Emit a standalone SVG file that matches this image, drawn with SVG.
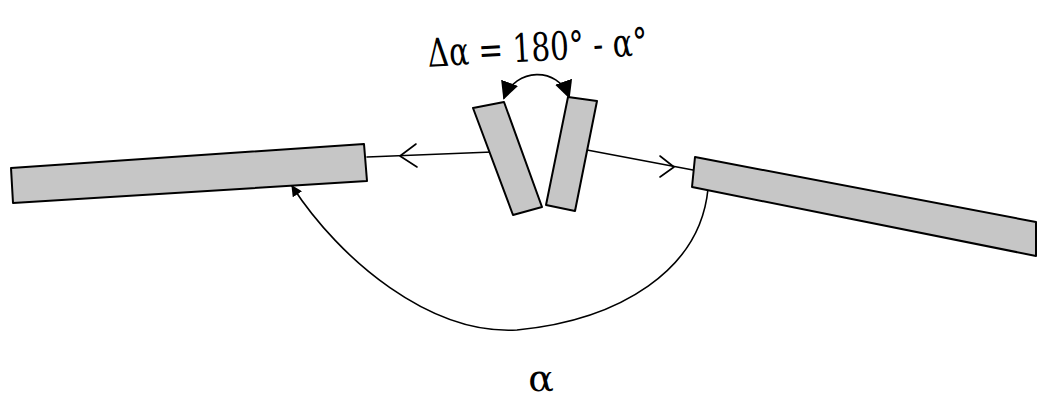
<svg xmlns="http://www.w3.org/2000/svg" width="1038" height="400" viewBox="0 0 1038 400">
<style>
.bar{fill:#c6c6c6;stroke:#000;stroke-width:2;stroke-linejoin:round}
.ln{fill:none;stroke:#000;stroke-width:1.6;stroke-linecap:round;stroke-linejoin:round}
.t{font-family:'DejaVu Serif',serif;fill:#000}
</style>
<defs>
<marker id="fa" viewBox="0 0 10 10" refX="9" refY="5" markerWidth="11" markerHeight="11" markerUnits="userSpaceOnUse" orient="auto">
<path d="M0,0 L10,5 L0,10 Z" fill="#000"/>
</marker>
<marker id="fb" viewBox="0 0 10 10" refX="9" refY="5" markerWidth="18" markerHeight="18" markerUnits="userSpaceOnUse" orient="auto-start-reverse">
<path d="M0,0 L10,5 L0,10 Z" fill="#000"/>
</marker>
</defs>
<g id="connectors">
<path class="ln" d="M492 152 L367 157"/>
<path class="ln" d="M416 144 L400 156 L417 167"/>
<path class="ln" d="M587 150 L693 170"/>
<path class="ln" d="M660 156 L674 167 L660 177"/>
<path class="ln" d="M708 189 C700 270 620 320 517 330 C430 335 340 260 292 186" marker-end="url(#fa)"/>
<path class="ln" d="M504 98 C515 68 558 66 569 97" marker-start="url(#fb)" marker-end="url(#fb)"/>
</g>
<g id="bar-left"><polygon class="bar" points="11,168 364,144 367,181 13,203"/></g>
<g id="bar-right"><polygon class="bar" points="695,157 1036,222 1036,256 692,187"/></g>
<g id="small-left"><polygon class="bar" points="473,108 504,102 542,207 513,215"/></g>
<g id="small-right"><polygon class="bar" points="568,97 597,101 575,211 546,205"/></g>
<g id="labels">
<text class="t" x="428" y="61" font-size="39" textLength="220" lengthAdjust="spacingAndGlyphs" transform="rotate(-3 537 58)">Δα = 180° - α°</text>
<text class="t" x="541" y="391" font-size="38" text-anchor="middle">α</text>
</g>
</svg>
